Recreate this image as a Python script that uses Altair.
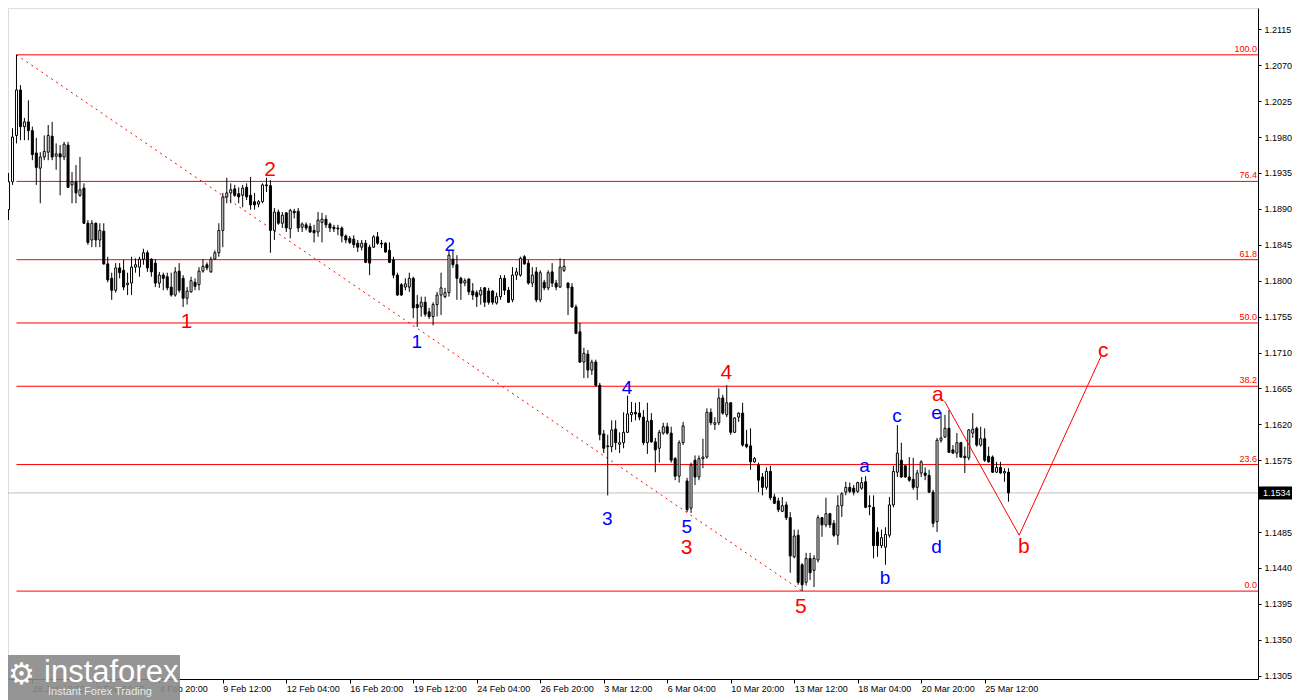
import altair as alt
import pandas as pd

# ---------------- candle data (H4 bars, index 0..252) ----------------
opens = [
 1.1889,1.1924,1.1982,1.2039,1.1993,1.1999,1.1988,1.1960,1.1941,1.1955,
 1.1961,1.1981,1.1956,1.1959,1.1955,1.1970,1.1920,1.1924,1.1907,1.1916,
 1.1872,1.1851,1.1872,1.1851,1.1862,1.1821,1.1803,1.1788,1.1816,1.1813,
 1.1795,1.1797,1.1817,1.1817,1.1827,1.1835,1.1827,1.1822,1.1797,1.1807,
 1.1805,1.1792,1.1782,1.1812,1.1803,1.1778,1.1786,1.1798,1.1795,1.1812,
 1.1820,1.1811,1.1827,1.1835,1.1863,1.1905,1.1910,1.1915,1.1909,1.1907,
 1.1917,1.1907,1.1899,1.1896,1.1899,1.1920,1.1919,1.1863,1.1886,1.1872,
 1.1885,1.1865,1.1887,1.1887,1.1867,1.1870,1.1868,1.1863,1.1861,1.1873,
 1.1877,1.1871,1.1867,1.1866,1.1866,1.1856,1.1853,1.1852,1.1847,1.1842,
 1.1847,1.1842,1.1842,1.1855,1.1847,1.1847,1.1838,1.1826,1.1807,1.1795,
 1.1792,1.1792,1.1803,1.1770,1.1767,1.1773,1.1761,1.1755,1.1770,1.1782,
 1.1780,1.1785,1.1827,1.1820,1.1803,1.1797,1.1802,1.1787,1.1785,1.1782,
 1.1791,1.1787,1.1787,1.1772,1.1780,1.1803,1.1788,1.1776,1.1807,1.1807,
 1.1830,1.1822,1.1797,1.1811,1.1776,1.1798,1.1791,1.1811,1.1797,1.1792,
 1.1813,1.1797,1.1792,1.1767,1.1736,1.1698,1.1708,1.1688,1.1698,1.1669,
 1.1608,1.1592,1.1592,1.1614,1.1595,1.1597,1.1610,1.1632,1.1635,1.1634,
 1.1629,1.1597,1.1625,1.1598,1.1590,1.1609,1.1617,1.1609,1.1577,1.1555,
 1.1597,1.1549,1.1515,1.1575,1.1554,1.1577,1.1579,1.1635,1.1620,1.1622,
 1.1653,1.1632,1.1647,1.1610,1.1629,1.1634,1.1595,1.1593,1.1573,1.1569,
 1.1554,1.1541,1.1561,1.1529,1.1524,1.1511,1.1519,1.1503,1.1454,1.1481,
 1.1444,1.1422,1.1452,1.1437,1.1450,1.1503,1.1494,1.1508,1.1496,1.1481,
 1.1518,1.1535,1.1541,1.1540,1.1536,1.1540,1.1548,1.1518,1.1516,1.1485,
 1.1468,1.1466,1.1481,1.1519,1.1560,1.1575,1.1568,1.1554,1.1551,1.1541,
 1.1559,1.1559,1.1556,1.1535,1.1498,1.1600,1.1604,1.1615,1.1588,1.1584,
 1.1597,1.1580,1.1578,1.1609,1.1615,1.1594,1.1602,1.1580,1.1579,1.1560,
 1.1566,1.1559,1.1560,
]
highs = [
 1.1935,1.1991,1.2083,1.2045,1.2004,1.2026,1.1993,1.1979,1.1961,1.1982,
 1.1995,1.1999,1.1972,1.1970,1.1974,1.1974,1.1936,1.1945,1.1955,1.1922,
 1.1876,1.1876,1.1873,1.1872,1.1872,1.1830,1.1810,1.1822,1.1822,1.1826,
 1.1810,1.1830,1.1828,1.1830,1.1840,1.1838,1.1828,1.1827,1.1811,1.1810,
 1.1810,1.1810,1.1817,1.1822,1.1807,1.1792,1.1805,1.1803,1.1817,1.1827,
 1.1823,1.1830,1.1838,1.1872,1.1910,1.1929,1.1922,1.1920,1.1917,1.1920,
 1.1922,1.1930,1.1910,1.1901,1.1922,1.1929,1.1926,1.1891,1.1889,1.1886,
 1.1886,1.1890,1.1890,1.1891,1.1873,1.1873,1.1872,1.1870,1.1886,1.1885,
 1.1882,1.1873,1.1870,1.1870,1.1868,1.1858,1.1856,1.1857,1.1851,1.1851,
 1.1851,1.1845,1.1857,1.1861,1.1851,1.1848,1.1848,1.1830,1.1810,1.1797,
 1.1803,1.1810,1.1805,1.1782,1.1780,1.1780,1.1766,1.1773,1.1786,1.1810,
 1.1791,1.1838,1.1838,1.1832,1.1805,1.1803,1.1803,1.1797,1.1788,1.1792,
 1.1792,1.1791,1.1788,1.1785,1.1807,1.1807,1.1792,1.1817,1.1816,1.1830,
 1.1832,1.1826,1.1817,1.1817,1.1813,1.1801,1.1813,1.1822,1.1801,1.1828,
 1.1827,1.1798,1.1797,1.1770,1.1747,1.1716,1.1713,1.1701,1.1701,1.1672,
 1.1613,1.1607,1.1625,1.1625,1.1610,1.1635,1.1656,1.1648,1.1647,1.1648,
 1.1638,1.1647,1.1634,1.1603,1.1613,1.1622,1.1622,1.1617,1.1579,1.1600,
 1.1623,1.1553,1.1572,1.1581,1.1581,1.1602,1.1640,1.1640,1.1629,1.1665,
 1.1657,1.1669,1.1648,1.1629,1.1635,1.1647,1.1613,1.1615,1.1579,1.1572,
 1.1559,1.1566,1.1568,1.1533,1.1528,1.1529,1.1523,1.1510,1.1488,1.1488,
 1.1446,1.1459,1.1459,1.1456,1.1506,1.1504,1.1528,1.1509,1.1500,1.1531,
 1.1535,1.1548,1.1547,1.1544,1.1548,1.1554,1.1555,1.1531,1.1531,1.1491,
 1.1488,1.1491,1.1529,1.1568,1.1619,1.1597,1.1569,1.1579,1.1578,1.1563,
 1.1575,1.1566,1.1563,1.1538,1.1603,1.1635,1.1632,1.1638,1.1594,1.1609,
 1.1598,1.1592,1.1614,1.1634,1.1617,1.1617,1.1615,1.1592,1.1581,1.1573,
 1.1573,1.1565,1.1565,
]
lows = [
 1.1876,1.1920,1.1972,1.1976,1.1976,1.1976,1.1951,1.1920,1.1897,1.1951,
 1.1951,1.1951,1.1939,1.1907,1.1951,1.1916,1.1897,1.1897,1.1905,1.1871,
 1.1845,1.1842,1.1842,1.1842,1.1820,1.1798,1.1776,1.1785,1.1803,1.1788,
 1.1782,1.1782,1.1810,1.1805,1.1820,1.1811,1.1805,1.1792,1.1791,1.1788,
 1.1788,1.1780,1.1780,1.1785,1.1767,1.1770,1.1785,1.1788,1.1788,1.1810,
 1.1813,1.1810,1.1826,1.1830,1.1842,1.1897,1.1897,1.1905,1.1897,1.1892,
 1.1901,1.1889,1.1889,1.1892,1.1897,1.1911,1.1835,1.1851,1.1870,1.1866,
 1.1861,1.1853,1.1878,1.1861,1.1861,1.1863,1.1860,1.1848,1.1855,1.1848,
 1.1866,1.1861,1.1861,1.1857,1.1848,1.1847,1.1846,1.1841,1.1836,1.1838,
 1.1822,1.1807,1.1841,1.1845,1.1841,1.1835,1.1822,1.1803,1.1781,1.1781,
 1.1788,1.1786,1.1753,1.1742,1.1755,1.1755,1.1752,1.1744,1.1755,1.1757,
 1.1778,1.1780,1.1816,1.1776,1.1776,1.1793,1.1782,1.1776,1.1767,1.1770,
 1.1767,1.1770,1.1770,1.1770,1.1776,1.1782,1.1772,1.1773,1.1801,1.1805,
 1.1820,1.1795,1.1792,1.1773,1.1773,1.1788,1.1788,1.1792,1.1788,1.1791,
 1.1811,1.1757,1.1766,1.1733,1.1697,1.1678,1.1678,1.1682,1.1667,1.1600,
 1.1584,1.1531,1.1585,1.1588,1.1584,1.1590,1.1609,1.1623,1.1625,1.1625,
 1.1594,1.1583,1.1597,1.1560,1.1572,1.1607,1.1607,1.1572,1.1550,1.1547,
 1.1594,1.1510,1.1509,1.1544,1.1550,1.1565,1.1577,1.1619,1.1613,1.1619,
 1.1632,1.1629,1.1607,1.1609,1.1623,1.1592,1.1590,1.1563,1.1572,1.1535,
 1.1531,1.1538,1.1525,1.1520,1.1510,1.1510,1.1500,1.1434,1.1452,1.1419,
 1.1411,1.1418,1.1425,1.1416,1.1447,1.1479,1.1491,1.1490,1.1479,1.1469,
 1.1504,1.1531,1.1534,1.1531,1.1534,1.1538,1.1515,1.1506,1.1452,1.1454,
 1.1465,1.1444,1.1478,1.1516,1.1554,1.1553,1.1553,1.1548,1.1538,1.1525,
 1.1554,1.1550,1.1534,1.1491,1.1485,1.1597,1.1603,1.1584,1.1583,1.1578,
 1.1578,1.1559,1.1575,1.1603,1.1592,1.1592,1.1573,1.1572,1.1559,1.1559,
 1.1558,1.1548,1.1523,
]
closes = [
 1.1924,1.1980,1.2039,1.1993,1.1999,1.1988,1.1958,1.1942,1.1955,1.1962,
 1.1982,1.1955,1.1959,1.1955,1.1971,1.1917,1.1924,1.1910,1.1914,1.1872,
 1.1848,1.1872,1.1851,1.1863,1.1821,1.1801,1.1788,1.1816,1.1810,1.1792,
 1.1797,1.1817,1.1820,1.1827,1.1835,1.1816,1.1811,1.1797,1.1807,1.1803,
 1.1791,1.1782,1.1811,1.1788,1.1778,1.1787,1.1800,1.1793,1.1812,1.1818,
 1.1816,1.1827,1.1835,1.1863,1.1905,1.1910,1.1914,1.1907,1.1905,1.1916,
 1.1905,1.1895,1.1895,1.1899,1.1920,1.1919,1.1863,1.1886,1.1872,1.1882,
 1.1866,1.1888,1.1885,1.1866,1.1871,1.1866,1.1861,1.1860,1.1876,1.1877,
 1.1870,1.1866,1.1865,1.1865,1.1856,1.1851,1.1848,1.1845,1.1842,1.1847,
 1.1823,1.1822,1.1855,1.1847,1.1846,1.1836,1.1823,1.1807,1.1782,1.1782,
 1.1796,1.1803,1.1766,1.1766,1.1773,1.1758,1.1755,1.1770,1.1782,1.1791,
 1.1785,1.1832,1.1820,1.1803,1.1797,1.1800,1.1786,1.1782,1.1780,1.1788,
 1.1773,1.1773,1.1773,1.1780,1.1803,1.1788,1.1773,1.1807,1.1811,1.1828,
 1.1821,1.1797,1.1807,1.1776,1.1810,1.1791,1.1810,1.1797,1.1792,1.1817,
 1.1818,1.1791,1.1767,1.1734,1.1698,1.1709,1.1688,1.1698,1.1669,1.1607,
 1.1590,1.1593,1.1613,1.1597,1.1597,1.1610,1.1633,1.1635,1.1633,1.1629,
 1.1597,1.1624,1.1598,1.1588,1.1610,1.1617,1.1609,1.1575,1.1555,1.1597,
 1.1618,1.1513,1.1569,1.1554,1.1577,1.1579,1.1635,1.1622,1.1622,1.1653,
 1.1634,1.1647,1.1610,1.1628,1.1634,1.1594,1.1592,1.1573,1.1577,1.1550,
 1.1541,1.1561,1.1528,1.1521,1.1513,1.1518,1.1503,1.1455,1.1480,1.1422,
 1.1419,1.1452,1.1434,1.1452,1.1503,1.1494,1.1508,1.1494,1.1481,1.1518,
 1.1533,1.1541,1.1536,1.1535,1.1547,1.1547,1.1516,1.1517,1.1468,1.1468,
 1.1478,1.1482,1.1519,1.1561,1.1584,1.1554,1.1554,1.1550,1.1541,1.1559,
 1.1573,1.1556,1.1535,1.1496,1.1600,1.1603,1.1615,1.1585,1.1584,1.1597,
 1.1579,1.1578,1.1613,1.1614,1.1594,1.1602,1.1575,1.1573,1.1560,1.1566,
 1.1559,1.1561,1.1534,
]

# ---------------- axes ----------------
time_tick_index = [6, 22, 38, 54, 70, 86, 102, 118, 134, 150, 166, 182, 198, 214, 230, 246]
time_tick_labels = ["28 Jan 12:00", "2 Feb 04:00", "4 Feb 20:00", "9 Feb 12:00", "12 Feb 04:00",
                    "16 Feb 20:00", "19 Feb 12:00", "24 Feb 04:00", "26 Feb 20:00", "3 Mar 12:00",
                    "6 Mar 04:00", "10 Mar 20:00", "13 Mar 12:00", "18 Mar 04:00", "20 Mar 20:00",
                    "25 Mar 12:00"]
price_ticks = [1.1305, 1.1350, 1.1395, 1.1440, 1.1485, 1.1575, 1.1620, 1.1665, 1.1710, 1.1755,
               1.1800, 1.1845, 1.1890, 1.1935, 1.1980, 1.2025, 1.2070, 1.2115]
current_price = 1.1534

# ---------------- Fibonacci ----------------
fib_start_index = 2
fib_100 = 1.2083
fib_0 = 1.1411
fib_end_index = 200
fib_ratios = [0.0, 0.236, 0.382, 0.5, 0.618, 0.764, 1.0]
fib_labels = ["0.0", "23.6", "38.2", "50.0", "61.8", "76.4", "100.0"]

# ---------------- zigzag a-b-c ----------------
zz_index = [235.9, 254.7, 275.4]
zz_price = [1.1649, 1.1481, 1.1706]

# ---------------- wave labels ----------------
red_text = ["1", "2", "3", "4", "5", "a", "b", "c"]
red_index = [44.9, 65.9, 170.9, 180.9, 199.7, 234.2, 255.9, 275.9]
red_price = [1.1748, 1.1939, 1.1465, 1.1684, 1.1391, 1.1657, 1.1466, 1.1712]
blue_text = ["1", "2", "3", "4", "5", "a", "b", "c", "d", "e"]
blue_index = [102.9, 111.2, 150.9, 155.9, 170.9, 215.7, 220.9, 223.9, 233.9, 233.9]
blue_price = [1.1723, 1.1845, 1.1501, 1.1665, 1.1491, 1.1568, 1.1427, 1.1630, 1.1466, 1.1634]

# ---------------- build ----------------
W, H = 1250, 671
PAD_R, PAD_B = 34, 21
X_DOM = [1.125, 313.625]
Y_DOM = [1.130086, 1.214170]
FONT = "Liberation Sans"

df = pd.DataFrame({"i": list(range(len(opens))), "o": opens, "h": highs, "l": lows, "c": closes})
df["fillc"] = ["white" if c >= o else "black" for o, c in zip(df["o"], df["c"])]

xs = alt.Scale(domain=X_DOM, nice=False, zero=False)
ys = alt.Scale(domain=Y_DOM, nice=False, zero=False)

lbl_arr = "[" + ",".join("'%s'" % s for s in time_tick_labels) + "]"
x_axis = alt.Axis(values=time_tick_index, labelExpr=f"{lbl_arr}[round((datum.value-{time_tick_index[0]})/16)]",
                  orient="bottom", title=None, grid=False, domainColor="black", tickColor="black",
                  tickSize=4, labelAlign="left", labelBaseline="top", labelPadding=1, labelFontSize=9,
                  labelColor="black", labelFont=FONT, labelFlush=False, labelOverlap=False)
y_axis = alt.Axis(values=price_ticks, format=".4f", orient="right", title=None, grid=False,
                  domainColor="black", tickColor="black", tickSize=3, labelPadding=3, labelFontSize=9,
                  labelColor="black", labelFont=FONT, labelFlush=False, labelOverlap=False)

X = lambda f: alt.X(f, type="quantitative", scale=xs, axis=x_axis)
Y = lambda f: alt.Y(f, type="quantitative", scale=ys, axis=y_axis)

base = alt.Chart(df)
wicks = base.mark_rule(color="black", strokeWidth=1).encode(x=X("i"), y=Y("l"), y2="h")
bodies = base.mark_bar(size=2, stroke="black", strokeWidth=1).encode(
    x=X("i"), y=Y("o"), y2="c", fill=alt.Fill("fillc:N", scale=None))

fib_df = pd.DataFrame({"r": fib_ratios, "lab": fib_labels})
fib_df["p"] = [fib_0 + r * (fib_100 - fib_0) for r in fib_ratios]
fib_df["i0"] = fib_start_index
fib_lines = alt.Chart(fib_df).mark_rule(color="#ff0000", strokeWidth=1).encode(
    x=X("i0"), x2=alt.value(W), y=Y("p"))
fib_text = alt.Chart(fib_df).mark_text(color="#ff0000", fontSize=9, font=FONT, align="right",
                                       baseline="bottom", dy=-1).encode(
    x=alt.value(W - 1), y=Y("p"), text="lab:N")

dot_df = pd.DataFrame({"i": [fib_start_index, fib_end_index], "p": [fib_100, fib_0]})
dotted = alt.Chart(dot_df).mark_line(color="#ff0000", strokeWidth=1, strokeDash=[2, 4]).encode(
    x=X("i"), y=Y("p"))

zz_df = pd.DataFrame({"i": zz_index, "p": zz_price, "k": list(range(len(zz_index)))})
zigzag = alt.Chart(zz_df).mark_line(color="#ff0000", strokeWidth=1).encode(
    x=X("i"), y=Y("p"), order="k:Q")

cur_df = pd.DataFrame({"p": [current_price], "t": ["%.4f" % current_price]})
cur_line = alt.Chart(cur_df).mark_rule(color="#c0c0c0", strokeWidth=1).encode(y=Y("p"))
cur_box = alt.Chart(cur_df).mark_tick(color="black", size=PAD_R - 1, thickness=13, orient="horizontal",
                                      opacity=1).encode(x=alt.value(W + 1 + (PAD_R - 1) / 2), y=Y("p"))
cur_text = alt.Chart(cur_df).mark_text(color="white", fontSize=9, font=FONT, align="left",
                                       baseline="middle").encode(x=alt.value(W + 5), y=Y("p"), text="t:N")

red_df = pd.DataFrame({"i": red_index, "p": red_price, "t": red_text})
blue_df = pd.DataFrame({"i": blue_index, "p": blue_price, "t": blue_text})
red_lbl = alt.Chart(red_df).mark_text(color="#ff0000", fontSize=21, font=FONT, baseline="middle").encode(
    x=X("i"), y=Y("p"), text="t:N")
blue_lbl = alt.Chart(blue_df).mark_text(color="#0000ff", fontSize=19, font=FONT, baseline="middle").encode(
    x=X("i"), y=Y("p"), text="t:N")

logo_df = pd.DataFrame({"k": [0]})
logo_box = alt.Chart(logo_df).mark_rect(color="#8a8a8a", opacity=0.9).encode(
    x=alt.value(0), x2=alt.value(172), y=alt.value(647), y2=alt.value(H + PAD_B))
logo_txt = alt.Chart(logo_df).mark_text(color="white", fontSize=31, font=FONT, align="left",
                                        baseline="alphabetic", text="instaforex").encode(
    x=alt.value(36), y=alt.value(674))
logo_sub = alt.Chart(logo_df).mark_text(color="#e8e8e8", fontSize=11, font=FONT, align="left",
                                        baseline="alphabetic", text="Instant Forex Trading").encode(
    x=alt.value(40), y=alt.value(687))
logo_gear = alt.Chart(logo_df).mark_text(color="white", fontSize=30, font="DejaVu Sans", align="left",
                                         baseline="middle", text="\u2699").encode(
    x=alt.value(0), y=alt.value(667))

chart = alt.layer(
    fib_lines, fib_text, cur_line, dotted, wicks, bodies, zigzag, red_lbl, blue_lbl,
    cur_box, cur_text, logo_box, logo_gear, logo_txt, logo_sub
).properties(
    width=W, height=H,
    padding={"left": 0, "top": 0, "right": PAD_R, "bottom": PAD_B},
    autosize=alt.AutoSizeParams(type="none"),
    background="white",
).configure_view(stroke=None).configure(font=FONT)

chart.save("out.html", embed_options={"renderer": "svg", "actions": False})
